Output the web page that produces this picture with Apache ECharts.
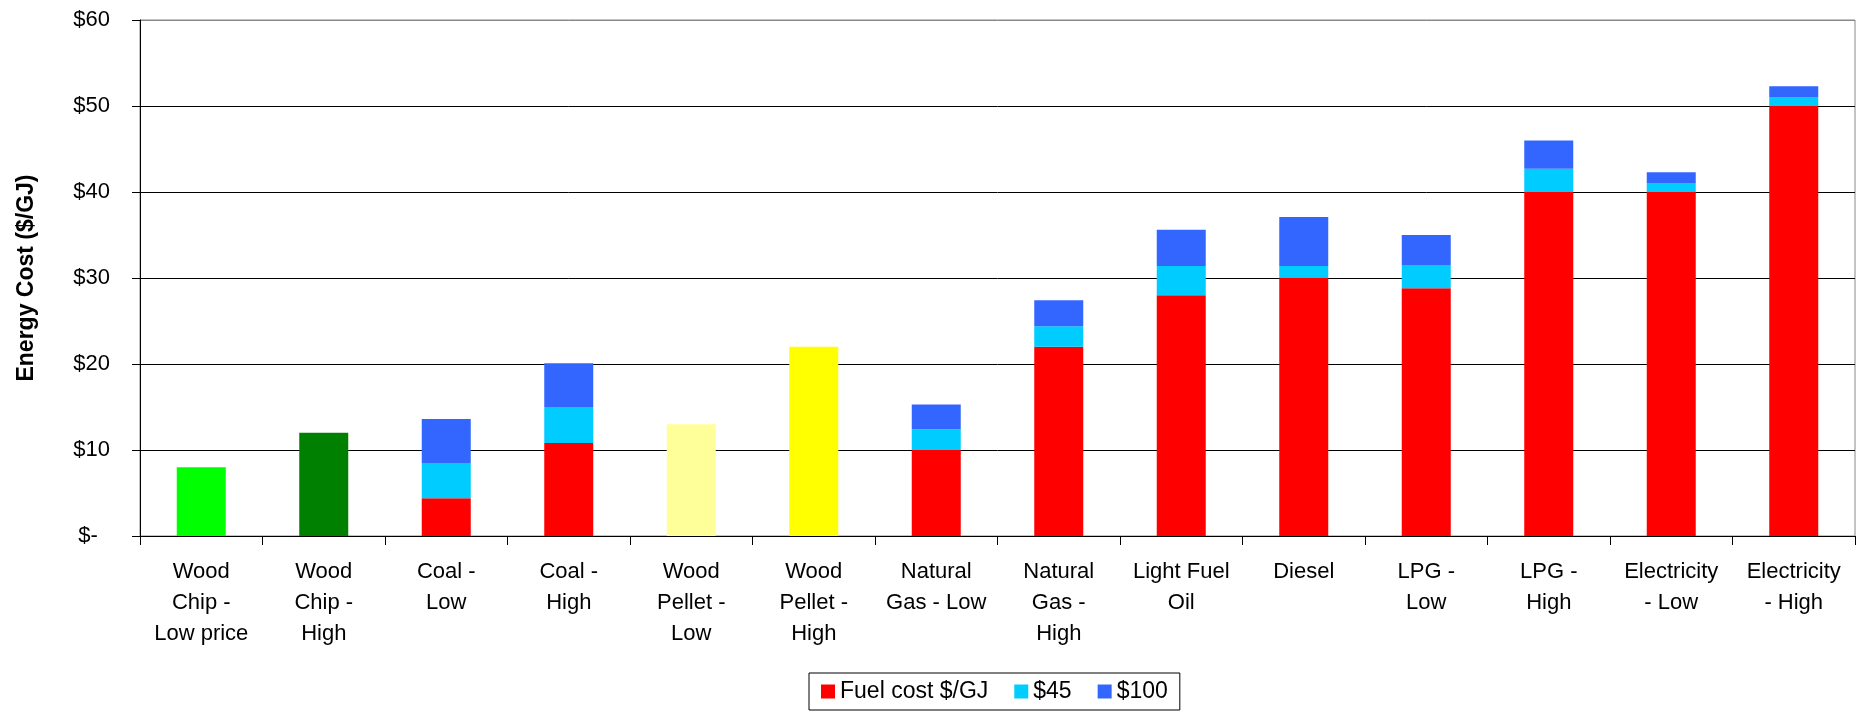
<!DOCTYPE html>
<html>
<head>
<meta charset="utf-8">
<script src="https://cdn.jsdelivr.net/npm/echarts@6/dist/echarts.min.js"></script>
<style>
  html, body { margin: 0; padding: 0; background: #fff; }
  #chart { width: 1867px; height: 712px; }
</style>
</head>
<body>
<div id="chart"></div>
<script>
// categories (tick labels wrapped as in the original)
const categories = [
  'Wood\nChip -\nLow price', 'Wood\nChip -\nHigh', 'Coal -\nLow', 'Coal -\nHigh',
  'Wood\nPellet -\nLow', 'Wood\nPellet -\nHigh', 'Natural\nGas - Low', 'Natural\nGas -\nHigh',
  'Light Fuel\nOil', 'Diesel', 'LPG -\nLow', 'LPG -\nHigh', 'Electricity\n- Low', 'Electricity\n- High'
]
const fuelCost = [8, 12, 4.4, 10.8, 13, 22, 10, 22, 28, 30, 28.8, 40, 40, 50]
const carbon45 = [0, 0, 4.1, 4.2, 0, 0, 2.4, 2.4, 3.4, 1.4, 2.7, 2.7, 1.0, 1.0]
const carbon100 = [0, 0, 5.1, 5.1, 0, 0, 2.9, 3.0, 4.2, 5.7, 3.5, 3.3, 1.3, 1.3]
// wood fuels drawn in their own colours
const fuelColors = ['#00ff00', '#008000', null, null, '#ffff99', '#ffff00']

const font = 'Liberation Sans, Arial, sans-serif'

const chart = echarts.init(document.getElementById('chart'))
chart.setOption({
  animation: false,
  textStyle: { fontFamily: font },
  grid: { left: 140, right: 12, top: 20, bottom: 176, show: true, borderColor: '#888', borderWidth: 1 },
  legend: {
    left: 809, top: 673,
    padding: [7, 12],
    borderColor: '#000', borderWidth: 1,
    icon: 'rect',
    itemWidth: 14, itemHeight: 14, itemGap: 26,
    textStyle: { fontSize: 23, color: '#000', fontFamily: font },
    data: ['Fuel cost $/GJ', '$45', '$100']
  },
  xAxis: {
    type: 'category',
    data: categories,
    axisLine: { lineStyle: { color: '#000', width: 1 } },
    axisTick: { show: true, length: 9, lineStyle: { color: '#000' } },
    axisLabel: { fontSize: 22, color: '#000', lineHeight: 31, margin: 20, interval: 0 }
  },
  yAxis: {
    type: 'value',
    min: 0, max: 60, interval: 10,
    name: 'Energy Cost ($/GJ)',
    nameLocation: 'middle',
    nameGap: 102,
    nameTextStyle: { fontSize: 23, fontWeight: 'bold', color: '#000' },
    axisLine: { show: true, lineStyle: { color: '#000' } },
    axisTick: { show: true, length: 8, lineStyle: { color: '#000' } },
    axisLabel: {
      fontSize: 22, color: '#000', margin: 30,
      formatter: v => v === 0 ? '$-  ' : '$' + v
    },
    splitLine: { lineStyle: { color: ['#000', '#000', '#000', '#000', '#000', '#000', '#888'], width: 1 } }
  },
  series: [
    {
      name: 'Fuel cost $/GJ', type: 'bar', stack: 'cost', barWidth: 49,
      itemStyle: { color: '#ff0000' },
      data: fuelCost.map((v, i) => fuelColors[i] ? { value: v, itemStyle: { color: fuelColors[i] } } : v)
    },
    { name: '$45', type: 'bar', stack: 'cost', barWidth: 49, itemStyle: { color: '#00ccff' }, data: carbon45 },
    { name: '$100', type: 'bar', stack: 'cost', barWidth: 49, itemStyle: { color: '#3366ff' }, data: carbon100 }
  ]
})
</script>
</body>
</html>
